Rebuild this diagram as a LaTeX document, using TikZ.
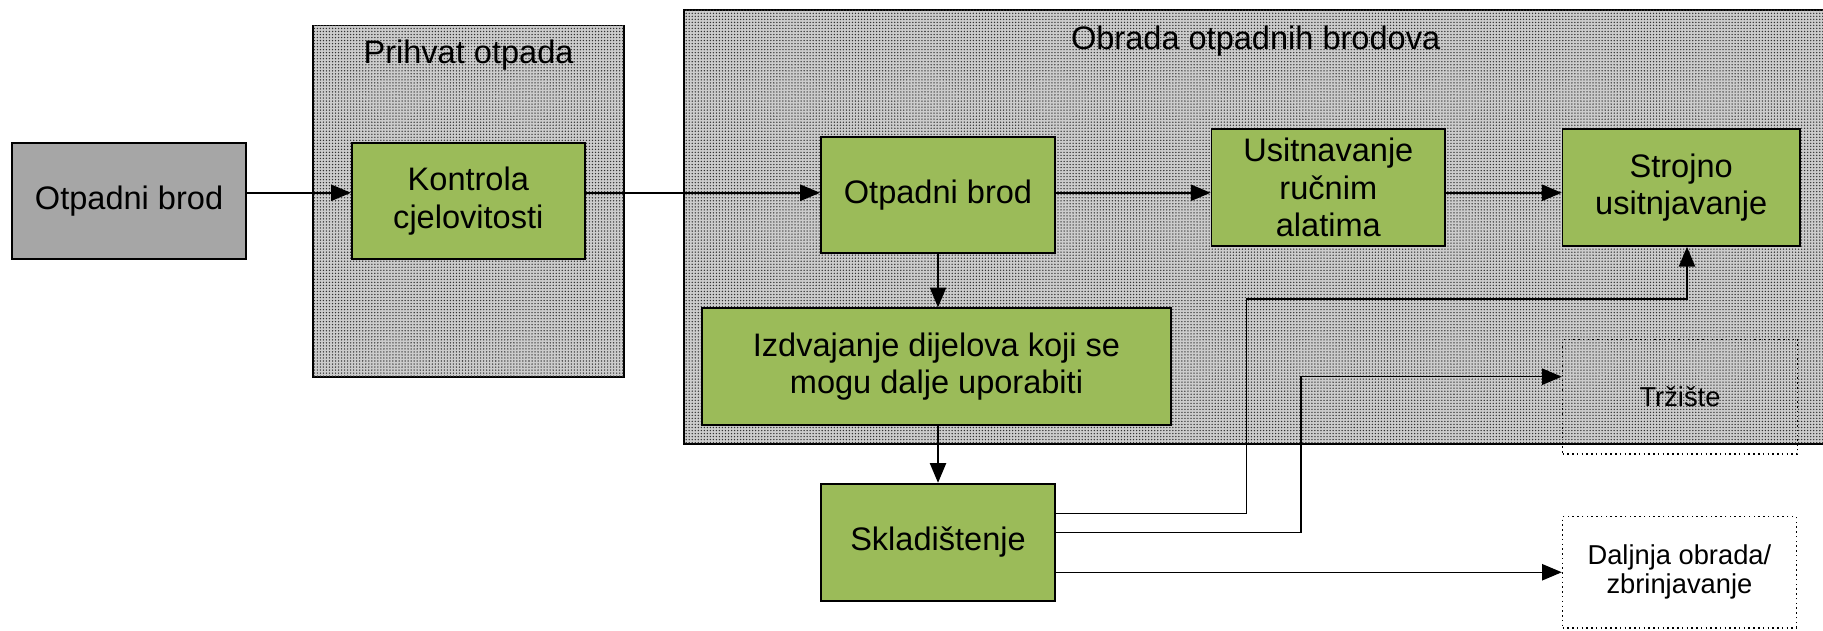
\documentclass[tikz,border=0pt]{standalone}
\usepackage{fontspec}
\setmainfont{Liberation Sans}
\usetikzlibrary{arrows.meta,patterns.meta}

\definecolor{boxgreen}{RGB}{155,187,89}
\definecolor{boxgray}{RGB}{166,166,166}

\tikzset{every path/.style={line width=1.3pt}}
\tikzset{
  stepbox/.style={draw, line width=1.5pt, fill=boxgreen, align=center, inner sep=0pt,
    font=\fontsize{28}{32.5}\selectfont},
  startbox/.style={stepbox, fill=boxgray},
  outbox/.style={draw, dash pattern=on 1.3pt off 2.8pt, align=center, inner sep=0pt,
    font=\fontsize{23.5}{25}\selectfont},
  area/.style={draw, line width=1.5pt, fill=gray!40,
    postaction={pattern={Dots[distance=2.6pt,radius=0.65pt]}, pattern color=black!80}},
  arealabel/.style={font=\fontsize{28}{32}\selectfont},
  arr/.style={-{Triangle[length=17pt,width=14pt]}}
}

\begin{document}
\begin{tikzpicture}[x=1pt,y=-1pt]
\useasboundingbox (0,0) rectangle (1568,541.9);

% grey areas
\draw[area] (269,22) rectangle (537,324);
\draw[area] (588,8.5) rectangle (1590,382);
\node[arealabel] (prihvat) at (403,47) {Prihvat otpada};
\node[arealabel] (obrada) at (1080,35) {Obrada otpadnih brodova};

% steps
\node[startbox, minimum width=201.5pt, minimum height=100pt] (src) at (111,172.8) {Otpadni brod};
\node[stepbox, minimum width=200.5pt, minimum height=100pt] (kontrola) at (402.8,172.8) {Kontrola\\cjelovitosti};
\node[stepbox, minimum width=201.5pt, minimum height=100pt] (otpad) at (806.8,167.7) {Otpadni brod};
\node[stepbox, minimum width=201pt, minimum height=100.6pt] (rucno) at (1142.5,161.3) {Usitnavanje\\ručnim\\alatima};
\node[stepbox, minimum width=204pt, minimum height=100.6pt] (strojno) at (1446,161.3) {Strojno\\usitnjavanje};
\node[stepbox, minimum width=403pt, minimum height=100.5pt] (izdvoji) at (805.5,315.3) {Izdvajanje dijelova koji se\\mogu dalje uporabiti};
\node[stepbox, minimum width=201.5pt, minimum height=101pt] (sklad) at (806.8,466.5) {Skladištenje};
\node[outbox, minimum width=202pt, minimum height=98.5pt] (trziste) at (1445,341.2) {Tržište};
\node[outbox, minimum width=201pt, minimum height=95.6pt] (daljnja) at (1444.5,492.2) {Daljnja obrada/\\zbrinjavanje};

% connectors
\coordinate (row) at (0,165.8);
\coordinate (gore) at (1072,257);
\coordinate (trzlin) at (1118.8,324);
\draw[arr] (src.east |- row) -- (kontrola.west |- row);
\draw[arr] (kontrola.east |- row) -- (otpad.west |- row);
\draw[arr] (otpad.east |- row) -- (rucno.west |- row);
\draw[arr] (rucno.east |- row) -- (strojno.west |- row);
\draw[arr] (otpad.south) -- (otpad.south |- izdvoji.north);
\draw[arr] (sklad.north |- izdvoji.south) -- (sklad.north);
\draw[arr] ([yshift=25pt]sklad.east) -| (gore) -| ([xshift=5pt]strojno.south);
\draw[arr] ([yshift=8.3pt]sklad.east) -| (trzlin) -- (trziste.west |- trzlin);
\draw[arr] (sklad.east |- daljnja.west) -- (daljnja.west);
\end{tikzpicture}
\end{document}
